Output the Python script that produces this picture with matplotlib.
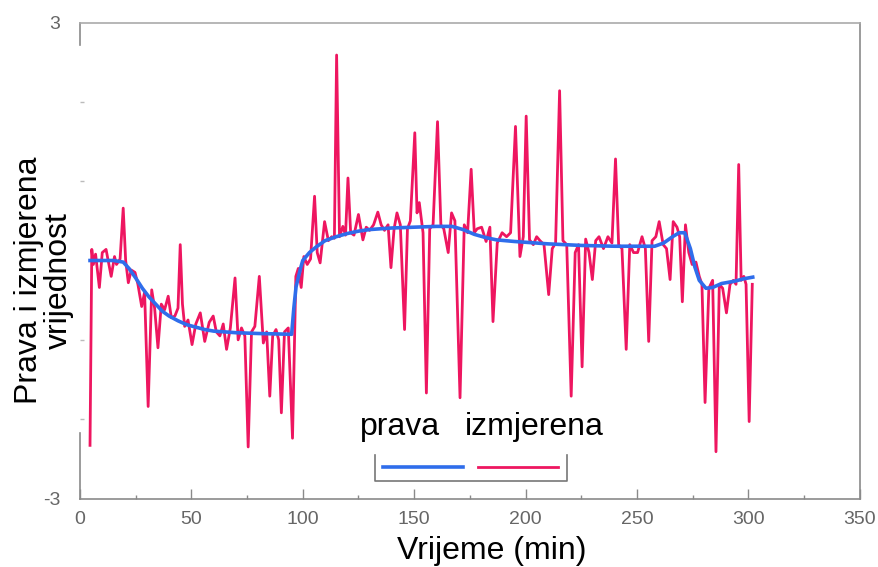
import matplotlib.pyplot as plt

plt.rcParams['font.family'] = ['Liberation Sans', 'DejaVu Sans']
plt.rcParams['axes.unicode_minus'] = False

# ====== DATA ======
# prava vrijednost (true value)
prava_t = [4.5, 10, 15, 19.4, 22, 25, 28, 31, 34, 37,
           40, 44, 48, 52, 56, 60, 65, 70, 80, 95,
           96, 97, 99, 100, 103, 106, 110, 115, 120, 125,
           130, 140, 150, 160, 167, 172, 177, 182, 187, 195,
           210, 225, 240, 258, 262, 266, 269, 271.5, 274, 276,
           278, 281, 284, 288, 294, 298, 302]
prava_y = [0.0, 0.0, 0.0, -0.02, -0.1, -0.22, -0.35, -0.46, -0.55, -0.64,
           -0.7, -0.76, -0.81, -0.84, -0.87, -0.89, -0.9, -0.91, -0.92, -0.93,
           -0.6, -0.33, -0.1, 0.0, 0.1, 0.17, 0.25, 0.3, 0.34, 0.37,
           0.39, 0.41, 0.42, 0.43, 0.43, 0.39, 0.33, 0.29, 0.26, 0.24,
           0.21, 0.19, 0.18, 0.18, 0.22, 0.3, 0.35, 0.35, 0.15, -0.08,
           -0.25, -0.35, -0.34, -0.29, -0.26, -0.23, -0.21]

# izmjerena vrijednost (measured value)
izmj_t = [4.5, 5.3, 6.0, 7.0, 8.7, 10.0, 11.7, 13.0, 14.0, 15.5,
          16.4, 18.0, 19.4, 20.5, 21.7, 23.0, 24.7, 26.0, 27.7, 29.0,
          30.6, 32.2, 33.5, 35.0, 36.5, 38.0, 39.6, 41.0, 42.6, 44.0,
          45.0, 46.0, 47.0, 48.5, 50.3, 52.0, 54.0, 56.0, 58.0, 59.8,
          61.2, 62.8, 64.3, 65.8, 67.5, 69.6, 71.0, 72.5, 74.0, 75.5,
          77.0, 78.5, 80.5, 82.3, 83.8, 85.2, 86.5, 88.0, 89.2, 90.4,
          91.8, 93.5, 95.4, 96.9, 98.0, 99.3, 100.5, 102.0, 103.5, 105.3,
          106.5, 107.8, 109.8, 111.5, 113.0, 114.2, 115.2, 116.5, 118.0, 119.2,
          120.3, 121.5, 123.0, 125.0, 127.0, 128.5, 130.0, 131.8, 133.7, 135.2,
          136.7, 138.3, 139.6, 141.0, 142.3, 143.8, 145.7, 147.0, 148.3, 150.3,
          151.3, 152.3, 154.0, 155.5, 157.0, 158.5, 160.5, 162.0, 163.3, 165.3,
          166.8, 168.3, 170.6, 172.5, 174.0, 175.6, 177.0, 178.3, 180.3, 182.3,
          184.0, 185.4, 187.3, 189.5, 191.5, 193.3, 195.5, 197.5, 199.0, 200.3,
          201.8, 203.5, 205.0, 206.5, 208.3, 210.4, 212.0, 213.5, 215.3, 216.8,
          218.5, 220.5, 222.3, 223.8, 225.4, 227.0, 228.5, 230.0, 231.5, 233.0,
          235.0, 237.0, 238.8, 240.4, 241.8, 243.3, 245.2, 246.8, 248.5, 250.3,
          252.3, 253.8, 255.3, 256.8, 258.5, 260.0, 261.8, 263.3, 264.9, 266.3,
          268.0, 269.2, 270.4, 271.8, 273.3, 274.8, 276.5, 278.0, 279.2, 280.6,
          282.3, 284.0, 285.5, 287.0, 288.5, 290.2, 291.8, 293.3, 294.5, 295.7,
          296.8, 298.0, 299.0, 300.4, 301.8]
izmj_y = [-2.33, 0.14, -0.05, 0.08, -0.34, 0.1, 0.14, -0.05, -0.2, 0.05,
          -0.05, 0.02, 0.66, 0.0, -0.28, -0.12, -0.15, -0.3, -0.58, -0.4,
          -1.84, -0.37, -0.6, -1.1, -0.55, -0.62, -0.45, -0.72, -0.7, -0.6,
          0.2, -0.55, -0.83, -0.75, -1.06, -0.8, -0.66, -1.02, -0.78, -0.7,
          -0.9, -0.95, -0.8, -1.12, -0.85, -0.22, -1.0, -0.85, -0.95, -2.35,
          -0.9, -0.83, -0.2, -1.04, -0.9, -1.71, -0.95, -0.87, -1.0, -1.92,
          -0.9, -0.85, -2.24, -0.2, -0.1, -0.34, 0.05, -0.05, 0.02, 0.81,
          0.1, -0.03, 0.49, 0.25, 0.3, 0.28, 2.59, 0.3, 0.43, 0.32,
          1.04, 0.35, 0.32, 0.58, 0.26, 0.42, 0.38, 0.45, 0.61, 0.45,
          0.38, 0.45, -0.09, 0.4, 0.6, 0.45, -0.87, 0.4, 0.5, 1.61,
          0.6, 0.73, 0.35, -1.67, 0.4, 0.45, 1.75, 0.45, 0.4, 0.1,
          0.6, 0.5, -1.73, 0.45, 0.35, 1.15, 0.35, 0.4, 0.42, 0.24,
          0.42, -0.77, 0.22, 0.35, 0.3, 0.35, 1.69, 0.05, 0.3, 1.82,
          0.26, 0.2, 0.3, 0.25, 0.2, -0.43, 0.15, 0.22, 2.14, 0.25,
          0.2, -1.71, 0.1, 0.2, -1.34, 0.27, 0.1, -0.24, 0.25, 0.3,
          0.15, 0.3, 0.22, 1.28, 0.2, 0.15, -1.12, 0.2, 0.1, 0.1,
          0.3, 0.15, -1.02, 0.25, 0.3, 0.49, 0.2, 0.15, -0.24, 0.49,
          0.42, 0.3, -0.52, 0.45, 0.1, -0.05, -0.02, -0.2, -0.3, -1.79,
          -0.35, -0.25, -2.41, -0.3, -0.35, -0.66, -0.3, -0.25, -0.3, 1.21,
          -0.25, -0.2, -0.3, -2.03, -0.3]

x_ticks = [0, 50, 100, 150, 200, 250, 300, 350]
y_ticks = [-3, 3]

RED = "#EE1660"
BLUE = "#2F6DEB"
GRAY = "#8a8a8a"

# ====== PLOT ======
fig = plt.figure(figsize=(8.79, 5.67), dpi=100)
ax = fig.add_axes([0.091, 0.1208, 0.887, 0.8395])

ax.plot(izmj_t, izmj_y, color=RED, lw=2.0, zorder=2)
ax.plot(prava_t, prava_y, color=BLUE, lw=2.6, zorder=3)

ax.set_xlim(0, 350)
ax.set_ylim(-3, 3)
ax.set_xticks(x_ticks)
ax.set_xticks(range(25, 350, 50), minor=True)
ax.set_yticks(y_ticks)
ax.set_yticks([-2, -1, 1, 2], minor=True)
ax.tick_params(axis="x", which="major", direction="in", length=7, width=1,
               color=GRAY, labelcolor="#666666", labelsize=14, pad=9)
ax.tick_params(axis="x", which="minor", direction="in", length=3, width=1, color=GRAY)
ax.tick_params(axis="y", which="major", direction="in", length=0,
               labelcolor="#666666", labelsize=14, pad=14)
ax.tick_params(axis="y", which="minor", direction="in", length=3, width=1, color="#bbbbbb")

for side in ["top", "right", "bottom", "left"]:
    ax.spines[side].set_color(GRAY)
    ax.spines[side].set_linewidth(1.2)
ax.spines["top"].set_color("#aaaaaa")
# left axis only partly visible in the original
ax.spines["left"].set_bounds(-3, -2.18)
ax.plot([0, 0], [2.72, 3], color=GRAY, lw=1.2, clip_on=False)

# legend (labels above line samples, half-open frame)
tr = ax.transAxes
ax.plot([0.378, 0.378, 0.624, 0.624], [0.0914, 0.0368, 0.0368, 0.0914],
        color="#777777", lw=1.2, transform=tr)
ax.plot([0.388, 0.491], [0.067, 0.067], color=BLUE, lw=2.6, transform=tr)
ax.plot([0.510, 0.613], [0.067, 0.067], color=RED, lw=2.0, transform=tr)
ax.text(0.359, 0.133, "prava", fontsize=23, transform=tr, va="baseline")
ax.text(0.494, 0.133, "izmjerena", fontsize=23, transform=tr, va="baseline")

fig.text(0.05, 0.505, "Prava i izmjerena\nvrijednost", rotation=90, fontsize=23,
         ha="center", va="center", multialignment="center", linespacing=1.0)
fig.text(0.56, 0.014, "Vrijeme (min)", fontsize=23, ha="center", va="baseline")

fig.savefig("out.png", dpi=100)
